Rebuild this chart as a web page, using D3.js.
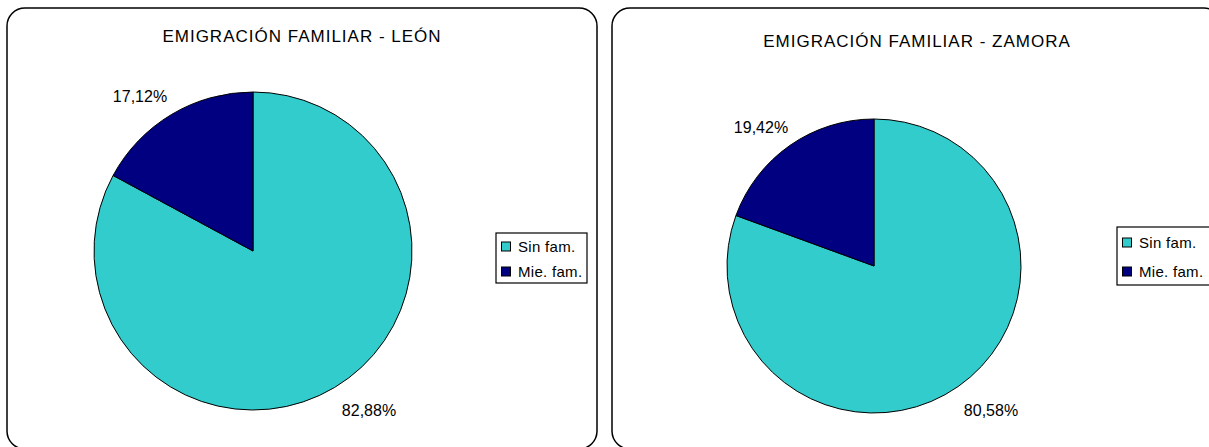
<!DOCTYPE html>
<html><head><meta charset="utf-8">
<script src="https://cdn.jsdelivr.net/npm/d3@7"></script>
<style>body{margin:0;background:#fff}svg{display:block}text{font-family:"Liberation Sans",Arial,sans-serif;fill:#000}</style>
</head><body><svg id="c" width="1209" height="447"></svg>
<script>
const categories = ["Sin fam.", "Mie. fam."];
const titles = ["EMIGRACIÓN FAMILIAR - LEÓN", "EMIGRACIÓN FAMILIAR - ZAMORA"];
const valuesLeon = [82.88, 17.12];
const valuesZamora = [80.58, 19.42];
const labelsLeon = ["82,88%", "17,12%"];
const labelsZamora = ["80,58%", "19,42%"];
const colors = ["#33CCCC", "#000080"];

const svg = d3.select("#c");
const color = d3.scaleOrdinal().domain(categories).range(colors);
const pie = d3.pie().sort(null).value(d => d.v);

const panels = [
  {frame:[7,8,590,441], title:titles[0], tx:302, ty:42, cx:253, cy:251, r:159, vals:valuesLeon, labs:labelsLeon,
   lab:[[369,416],[140,102]], leg:[496,233,91,50]},
  {frame:[612,8,610,441], title:titles[1], tx:917, ty:47, cx:874, cy:266, r:147, vals:valuesZamora, labs:labelsZamora,
   lab:[[991,416],[761,133]], leg:[1117,227,95,58]}
];

panels.forEach(p => {
  const [fx,fy,fw,fh] = p.frame;
  svg.append("rect").attr("x",fx).attr("y",fy).attr("width",fw).attr("height",fh)
    .attr("rx",18).attr("ry",18).attr("fill","#fff").attr("stroke","#000").attr("stroke-width",1.5);
  svg.append("text").attr("x",p.tx).attr("y",p.ty).attr("text-anchor","middle")
    .style("font-size","17px").style("letter-spacing","1px").text(p.title);
  const data = categories.map((c,i)=>({c, v:p.vals[i], l:p.labs[i]}));
  const arcs = pie(data);
  const arc = d3.arc().innerRadius(0).outerRadius(p.r);
  const g = svg.append("g").attr("transform",`translate(${p.cx},${p.cy})`);
  g.selectAll("path").data(arcs).join("path").attr("d",arc)
    .attr("fill",d=>color(d.data.c)).attr("stroke","#000").attr("stroke-width",1);
  arcs.forEach((a,i)=>{
    svg.append("text").attr("x",p.lab[i][0]).attr("y",p.lab[i][1]).attr("text-anchor","middle")
      .style("font-size","16px").text(a.data.l);
  });
  const [lx,ly,lw,lh] = p.leg;
  svg.append("rect").attr("x",lx).attr("y",ly).attr("width",lw).attr("height",lh)
    .attr("fill","#fff").attr("stroke","#000").attr("stroke-width",1.2);
  categories.forEach((c,i)=>{
    const yy = ly + lh*(i*2+1)/4 + 1;
    svg.append("rect").attr("x",lx+5.5).attr("y",yy-4.5).attr("width",9).attr("height",9)
      .attr("fill",color(c)).attr("stroke","#000").attr("stroke-width",1);
    svg.append("text").attr("x",lx+22).attr("y",yy+5.5).style("font-size","15px").style("letter-spacing","0.3px").text(c);
  });
});
</script></body></html>
